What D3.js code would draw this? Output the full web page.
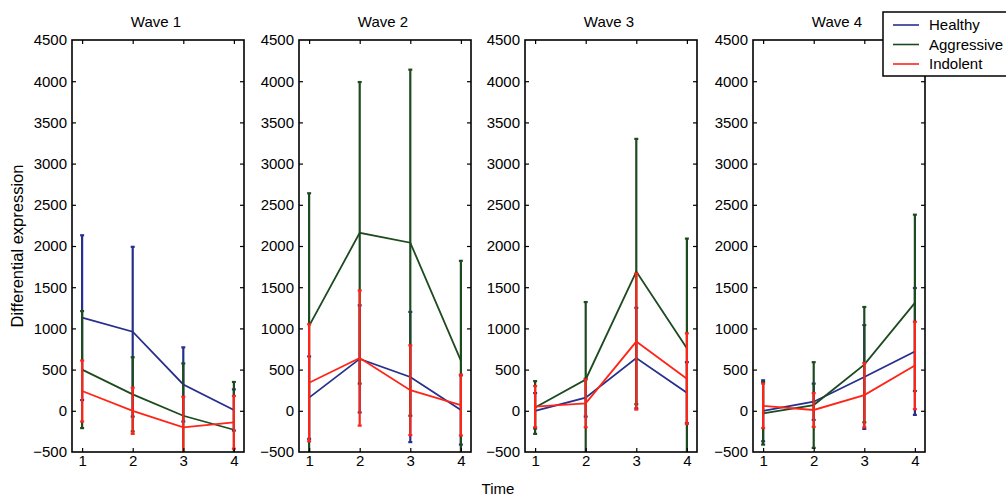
<!DOCTYPE html>
<html>
<head>
<meta charset="utf-8">
<script src="https://cdn.jsdelivr.net/npm/d3@7"></script>
<style>
  body { margin: 0; background: #fff; }
  svg { display: block; font-family: "Liberation Sans", Arial, sans-serif; }
</style>
</head>
<body>
<div id="chart"></div>
<script>
// données
const times = [1, 2, 3, 4];
const waves = ['Wave 1', 'Wave 2', 'Wave 3', 'Wave 4'];
const groups = ['Healthy', 'Aggressive', 'Indolent'];
const yTicks = [-500, 0, 500, 1000, 1500, 2000, 2500, 3000, 3500, 4000, 4500];

// une ligne par vague, une valeur par temps
const healthyMean = [[1130, 960, 320, 10], [160, 630, 410, 10], [0, 160, 640, 220], [0, 110, 410, 720]];
const healthyErr  = [[1000, 1030, 450, 250], [500, 650, 790, 420], [215, 230, 610, 370], [370, 220, 630, 770]];
const aggressiveMean = [[500, 200, -60, -230], [1030, 2160, 2040, 610], [40, 380, 1690, 760], [-30, 70, 560, 1310]];
const aggressiveErr  = [[710, 450, 635, 580], [1610, 1830, 2100, 1210], [320, 940, 1610, 1330], [380, 520, 700, 1070]];
const indolentMean = [[240, 0, -200, -140], [340, 640, 250, 70], [50, 90, 840, 390], [60, 10, 190, 550]];
const indolentErr  = [[370, 280, 370, 320], [710, 820, 545, 370], [250, 290, 825, 550], [270, 205, 390, 530]];

const means = [healthyMean, aggressiveMean, indolentMean];
const errs = [healthyErr, aggressiveErr, indolentErr];
const colors = ['#26308c', '#1d4a1f', '#ff2418'];

const WIDTH = 1006;
const HEIGHT = 496;
const PANEL_LEFT = [72, 299, 525, 753];
const PANEL_W = 172;
const TOP = 40;
const BOTTOM = 452;
const FONT = 15;

const svg = d3.select('#chart').append('svg').attr('width', WIDTH).attr('height', HEIGHT);

const y = d3.scaleLinear().domain([-500, 4500]).range([BOTTOM, TOP]);

waves.forEach((wave, w) => {
  const x = d3.scaleLinear().domain([0.8, 4.2]).range([PANEL_LEFT[w], PANEL_LEFT[w] + PANEL_W]);
  const g = svg.append('g');

  // zone de découpe pour les barres d'erreur
  g.append('clipPath').attr('id', 'clip' + w)
    .append('rect')
    .attr('x', x.range()[0]).attr('y', TOP)
    .attr('width', PANEL_W).attr('height', BOTTOM - TOP);

  const plot = g.append('g').attr('clip-path', `url(#clip${w})`);

  groups.forEach((grp, k) => {
    const pts = times.map((t, i) => ({ t, m: means[k][w][i], e: errs[k][w][i] }));

    // barres d'erreur
    const eb = plot.append('g').attr('stroke', colors[k]).attr('stroke-width', 2.2);
    eb.selectAll('line.v').data(pts).enter().append('line')
      .attr('x1', d => x(d.t)).attr('x2', d => x(d.t))
      .attr('y1', d => y(d.m - d.e)).attr('y2', d => y(d.m + d.e));
    eb.selectAll('line.top').data(pts).enter().append('line')
      .attr('x1', d => x(d.t) - 2).attr('x2', d => x(d.t) + 2)
      .attr('y1', d => y(d.m + d.e)).attr('y2', d => y(d.m + d.e));
    eb.selectAll('line.bot').data(pts).enter().append('line')
      .attr('x1', d => x(d.t) - 2).attr('x2', d => x(d.t) + 2)
      .attr('y1', d => y(d.m - d.e)).attr('y2', d => y(d.m - d.e));

    // la courbe des moyennes
    plot.append('path')
      .datum(pts)
      .attr('fill', 'none')
      .attr('stroke', colors[k])
      .attr('stroke-width', 1.8)
      .attr('d', d3.line().x(d => x(d.t)).y(d => y(d.m)));
  });

  // axes, graduations vers l'intérieur
  const left = g.append('g').attr('transform', `translate(${x.range()[0]},0)`)
    .call(d3.axisLeft(y).tickValues(yTicks).tickSize(-4).tickSizeOuter(0).tickPadding(5).tickFormat(d3.format('d')));
  const right = g.append('g').attr('transform', `translate(${x.range()[1]},0)`)
    .call(d3.axisRight(y).tickValues(yTicks).tickSize(-4).tickSizeOuter(0).tickFormat(''));
  const bottom = g.append('g').attr('transform', `translate(0,${BOTTOM})`)
    .call(d3.axisBottom(x).tickValues(times).tickSize(-4).tickSizeOuter(0).tickPadding(3).tickFormat(d3.format('d')));
  const top = g.append('g').attr('transform', `translate(0,${TOP})`)
    .call(d3.axisTop(x).tickValues(times).tickSize(-4).tickSizeOuter(0).tickFormat(''));

  [left, right, bottom, top].forEach(a => {
    a.selectAll('path').remove();
    a.selectAll('line').attr('stroke', '#000').attr('stroke-width', 1.2);
    a.selectAll('text').attr('font-size', FONT).attr('font-family', null).attr('fill', '#000');
  });
  // pas de graduation aux coins du cadre
  left.selectAll('.tick').filter(d => d === -500 || d === 4500).select('line').remove();
  right.selectAll('.tick').filter(d => d === -500 || d === 4500).select('line').remove();

  // le cadre
  g.append('rect')
    .attr('x', x.range()[0]).attr('y', TOP)
    .attr('width', PANEL_W).attr('height', BOTTOM - TOP)
    .attr('fill', 'none').attr('stroke', '#000').attr('stroke-width', 1.6);

  // titre
  g.append('text')
    .attr('x', x.range()[0] + PANEL_W / 2 - 2).attr('y', 27)
    .attr('text-anchor', 'middle').attr('font-size', FONT)
    .text(wave);
});

// titres des axes
svg.append('text')
  .attr('transform', 'translate(23,246) rotate(-90)')
  .attr('text-anchor', 'middle').attr('font-size', 16.5)
  .text('Differential expression');

svg.append('text')
  .attr('x', 498).attr('y', 494)
  .attr('text-anchor', 'middle').attr('font-size', FONT)
  .text('Time');

// la légende
const legend = svg.append('g');
legend.append('rect')
  .attr('x', 883).attr('y', 12).attr('width', 130).attr('height', 64)
  .attr('fill', '#fff').attr('stroke', '#000').attr('stroke-width', 1.5);

legend.selectAll('line').data(groups).enter().append('line')
  .attr('x1', 893).attr('x2', 919)
  .attr('y1', (d, i) => 25 + i * 19.5).attr('y2', (d, i) => 25 + i * 19.5)
  .attr('stroke', (d, i) => colors[i]).attr('stroke-width', 1.6);

legend.selectAll('text').data(groups).enter().append('text')
  .attr('x', 929).attr('y', (d, i) => 30 + i * 19.5)
  .attr('font-size', FONT)
  .text(d => d);
</script>
</body>
</html>
